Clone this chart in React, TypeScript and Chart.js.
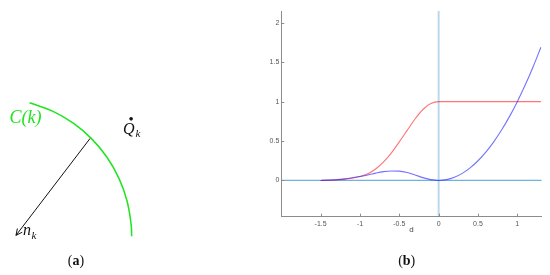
import React, { useEffect, useRef } from "react";
import { Chart, registerables } from "chart.js";

Chart.register(...registerables);

// ---------- panel (b) data ----------
const dValues = [
  -1.5, -1.4, -1.3, -1.2, -1.1, -1.0, -0.9, -0.8, -0.7, -0.6, -0.5, -0.4, -0.3, -0.2, -0.1,
  0, 0.1, 0.2, 0.3, 0.4, 0.5, 0.6, 0.7, 0.8, 0.9, 1.0, 1.1, 1.2, 1.3,
];
const redValues = [
  0, 0.002, 0.006, 0.014, 0.028, 0.05, 0.085, 0.145, 0.235, 0.35, 0.49, 0.635, 0.78, 0.9, 0.975,
  1, 1, 1, 1, 1, 1, 1, 1, 1, 1, 1, 1, 1, 1,
];
const blueValues = [
  0, 0.004, 0.01, 0.02, 0.034, 0.05, 0.069, 0.093, 0.112, 0.12, 0.118, 0.1, 0.07, 0.036, 0.01,
  0, 0.01, 0.04, 0.09, 0.16, 0.25, 0.36, 0.49, 0.64, 0.81, 1.0, 1.21, 1.44, 1.69,
];
const xTickValues = [-1.5, -1, -0.5, 0, 0.5, 1];
const yTickValues = [0, 0.5, 1, 1.5, 2];
const xRange = [-2, 1.31];
const yRange = [-0.46, 2.15];
const xAxisTitle = "d";
const panelBLabel = "b";

// ---------- panel (a) diagram (panel pixel units) ----------
const arcPoints = [
  { x: 26.7, y: 101.7 },
  { x: 51.2, y: 110.6 },
  { x: 72.7, y: 123.0 },
  { x: 91.6, y: 138.9 },
  { x: 107.5, y: 157.8 },
  { x: 119.9, y: 179.3 },
  { x: 128.4, y: 202.6 },
  { x: 132.7, y: 226.9 },
  { x: 133.3, y: 239.3 },
];
const normalArrow = [
  { x: 90, y: 138.3 },
  { x: 12.5, y: 238.3 },
];
const pointQ = [{ x: 132.7, y: 118.3 }];
const panelALabel = "a";

const SERIF = "'Liberation Serif', 'DejaVu Serif', serif";
const SANS = "'Liberation Sans', Arial, sans-serif";
const GREEN = "rgb(30,228,30)";

function drawPanelLabel(ctx: CanvasRenderingContext2D, letter: string, cx: number, baseline: number) {
  ctx.save();
  ctx.fillStyle = "#111";
  ctx.textBaseline = "alphabetic";
  ctx.textAlign = "left";
  const normal = `14px ${SERIF}`;
  const bold = `bold 14px ${SERIF}`;
  ctx.font = normal;
  const wp = ctx.measureText("(").width;
  const wq = ctx.measureText(")").width;
  ctx.font = bold;
  const wl = ctx.measureText(letter).width;
  let x = cx - (wp + wl + wq) / 2;
  ctx.font = normal;
  ctx.fillText("(", x, baseline);
  x += wp;
  ctx.font = bold;
  ctx.fillText(letter, x, baseline);
  x += wl;
  ctx.font = normal;
  ctx.fillText(")", x, baseline);
  ctx.restore();
}

const diagramPlugin = {
  id: "diagramPlugin",
  afterDatasetsDraw(chart: any) {
    const ctx: CanvasRenderingContext2D = chart.ctx;
    const xs = chart.scales.x;
    const ys = chart.scales.y;
    const px = (p: { x: number; y: number }) => [xs.getPixelForValue(p.x), ys.getPixelForValue(p.y)];

    // arrowhead at the end of the normal vector
    const [x0, y0] = px(normalArrow[0]);
    const [x1, y1] = px(normalArrow[1]);
    const ang = Math.atan2(y1 - y0, x1 - x0);
    const len = 7;
    const spread = 0.45;
    ctx.save();
    ctx.strokeStyle = "#111";
    ctx.lineWidth = 1;
    ctx.beginPath();
    ctx.moveTo(x1 - len * Math.cos(ang - spread), y1 - len * Math.sin(ang - spread));
    ctx.lineTo(x1, y1);
    ctx.lineTo(x1 - len * Math.cos(ang + spread), y1 - len * Math.sin(ang + spread));
    ctx.stroke();
    ctx.restore();

    // text labels
    ctx.save();
    ctx.textBaseline = "alphabetic";
    ctx.textAlign = "left";
    ctx.fillStyle = GREEN;
    ctx.font = `italic 18px ${SERIF}`;
    ctx.fillText("C(k)", 9.5, 123);

    ctx.fillStyle = "#111";
    ctx.font = `italic 16px ${SERIF}`;
    ctx.fillText("Q", 123, 133.5);
    ctx.font = `italic 11px ${SERIF}`;
    ctx.fillText("k", 135.5, 137);

    ctx.font = `italic 16px ${SERIF}`;
    ctx.fillText("n", 23, 235);
    ctx.font = `italic 11px ${SERIF}`;
    ctx.fillText("k", 31.5, 238.5);
    ctx.restore();

    drawPanelLabel(ctx, panelALabel, 76, 265);
  },
};

const inwardTicksPlugin = {
  id: "inwardTicks",
  afterDraw(chart: any) {
    const ctx: CanvasRenderingContext2D = chart.ctx;
    const { left, bottom } = chart.chartArea;
    const xs = chart.scales.x;
    const ys = chart.scales.y;
    ctx.save();
    ctx.strokeStyle = "#8c8c8c";
    ctx.lineWidth = 1;
    ctx.beginPath();
    for (const v of xTickValues) {
      const x = Math.round(xs.getPixelForValue(v)) + 0.5;
      ctx.moveTo(x, bottom);
      ctx.lineTo(x, bottom - 3);
    }
    for (const v of yTickValues) {
      const y = Math.round(ys.getPixelForValue(v)) + 0.5;
      ctx.moveTo(left, y);
      ctx.lineTo(left + 3, y);
    }
    ctx.stroke();
    ctx.restore();
    drawPanelLabel(ctx, panelBLabel, 406.7, 265);
  },
};

export default function App() {
  const refA = useRef<HTMLCanvasElement | null>(null);
  const refB = useRef<HTMLCanvasElement | null>(null);

  useEffect(() => {
    if (!refA.current || !refB.current) return;

    const chartB = new Chart(refB.current, {
      type: "scatter",
      data: {
        datasets: [
          {
            label: "blue",
            data: dValues.map((d, i) => ({ x: d, y: blueValues[i] })),
            showLine: true,
            borderColor: "rgba(40,40,255,0.65)",
            borderWidth: 1.1,
            pointRadius: 0,
            cubicInterpolationMode: "monotone",
            order: 0,
          },
          {
            label: "red",
            data: dValues.map((d, i) => ({ x: d, y: redValues[i] })),
            showLine: true,
            borderColor: "rgba(255,30,30,0.62)",
            borderWidth: 1.1,
            pointRadius: 0,
            cubicInterpolationMode: "monotone",
            order: 1,
          },
          {
            label: "vertical",
            data: [
              { x: 0, y: yRange[0] },
              { x: 0, y: yRange[1] },
            ],
            showLine: true,
            borderColor: "rgba(0,114,189,0.28)",
            borderWidth: 2,
            pointRadius: 0,
            order: 2,
          },
          {
            label: "zero",
            data: [
              { x: xRange[0], y: 0 },
              { x: xRange[1], y: 0 },
            ],
            showLine: true,
            borderColor: "rgba(0,114,189,0.55)",
            borderWidth: 1.2,
            pointRadius: 0,
            order: 3,
          },
        ],
      },
      options: {
        animation: false,
        responsive: false,
        events: [],
        layout: { padding: { left: 261.3, top: 11, right: 8.3, bottom: 28.3 } },
        plugins: { legend: { display: false }, tooltip: { enabled: false } },
        scales: {
          x: {
            type: "linear",
            min: xRange[0],
            max: xRange[1],
            afterBuildTicks: (s: any) => {
              s.ticks = xTickValues.map((v) => ({ value: v }));
            },
            afterFit: (s: any) => {
              s.height = 30;
            },
            grid: { display: false, drawTicks: false },
            border: { display: true, color: "#8c8c8c", width: 1 },
            ticks: {
              autoSkip: false,
              maxRotation: 0,
              padding: 3,
              color: "#555",
              font: { size: 7, family: SANS },
              callback: (v: any) => String(v),
            },
            title: {
              display: true,
              text: xAxisTitle,
              color: "#444",
              font: { size: 8, family: SANS },
              padding: { top: 0, bottom: 12 },
            },
          },
          y: {
            type: "linear",
            min: yRange[0],
            max: yRange[1],
            afterBuildTicks: (s: any) => {
              s.ticks = yTickValues.map((v) => ({ value: v }));
            },
            afterFit: (s: any) => {
              s.width = 20;
            },
            grid: { display: false, drawTicks: false },
            border: { display: true, color: "#8c8c8c", width: 1 },
            ticks: {
              autoSkip: false,
              padding: 2,
              color: "#555",
              font: { size: 7, family: SANS },
              callback: (v: any) => String(v),
            },
          },
        },
      },
      plugins: [inwardTicksPlugin],
    } as any);

    const chartA = new Chart(refA.current, {
      type: "scatter",
      data: {
        datasets: [
          {
            label: "C(k)",
            data: arcPoints,
            showLine: true,
            borderColor: GREEN,
            borderWidth: 1.5,
            pointRadius: 0,
            tension: 0.4,
          },
          {
            label: "n_k",
            data: normalArrow,
            showLine: true,
            borderColor: "#111",
            borderWidth: 1,
            pointRadius: 0,
          },
          {
            label: "Q_k",
            data: pointQ,
            showLine: false,
            backgroundColor: "#111",
            borderColor: "#111",
            pointRadius: 1.8,
            borderWidth: 0,
          },
        ],
      },
      options: {
        animation: false,
        responsive: false,
        events: [],
        layout: { padding: 0 },
        plugins: { legend: { display: false }, tooltip: { enabled: false } },
        scales: {
          x: { type: "linear", min: 0, max: 190, display: false },
          y: { type: "linear", min: 0, max: 275, reverse: true, display: false },
        },
      },
      plugins: [diagramPlugin],
    } as any);

    return () => {
      chartA.destroy();
      chartB.destroy();
    };
  }, []);

  return (
    <div style={{ position: "absolute", left: 0, top: 0, width: 550, height: 275, background: "#fff" }}>
      <canvas ref={refB} width={550} height={275} style={{ position: "absolute", left: 0, top: 0 }} />
      <canvas ref={refA} width={190} height={275} style={{ position: "absolute", left: 0, top: 0 }} />
    </div>
  );
}
